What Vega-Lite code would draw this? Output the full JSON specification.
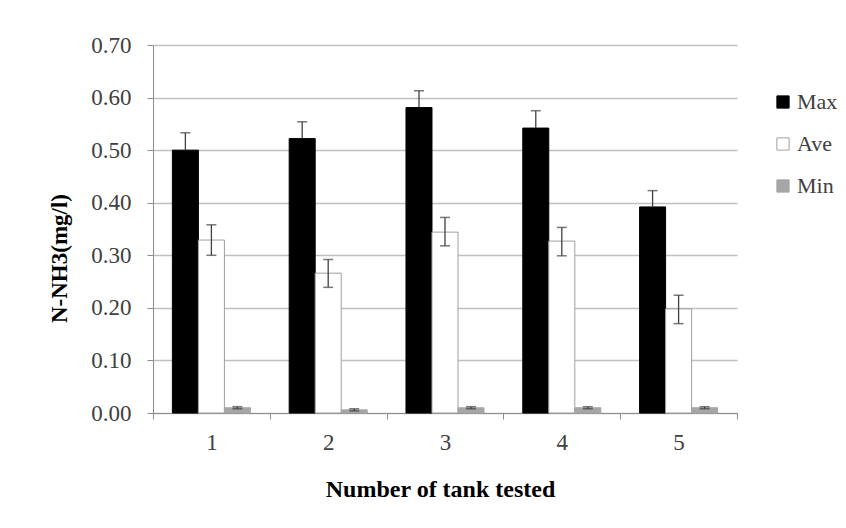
{
  "$schema": "https://vega.github.io/schema/vega-lite/v6.json",
  "width": 584,
  "height": 368,
  "autosize": {"type": "none"},
  "padding": {"left": 153, "top": 45, "right": 109, "bottom": 115},
  "background": "white",
  "config": {
    "view": {"stroke": null},
    "font": "Liberation Serif",
    "legend": {"labelFont": "Liberation Serif", "labelFontSize": 22, "labelColor": "#404040", "padding": 0}
  },
  "data": {
    "values": [
      {"tank": "1", "series": "Max", "value": 0.500, "lo": 0.500, "hi": 0.533},
      {"tank": "1", "series": "Ave", "value": 0.329, "lo": 0.300, "hi": 0.358},
      {"tank": "1", "series": "Min", "value": 0.010, "lo": 0.008, "hi": 0.012},
      {"tank": "2", "series": "Max", "value": 0.522, "lo": 0.522, "hi": 0.554},
      {"tank": "2", "series": "Ave", "value": 0.266, "lo": 0.239, "hi": 0.292},
      {"tank": "2", "series": "Min", "value": 0.006, "lo": 0.004, "hi": 0.008},
      {"tank": "3", "series": "Max", "value": 0.581, "lo": 0.581, "hi": 0.613},
      {"tank": "3", "series": "Ave", "value": 0.344, "lo": 0.318, "hi": 0.372},
      {"tank": "3", "series": "Min", "value": 0.010, "lo": 0.008, "hi": 0.012},
      {"tank": "4", "series": "Max", "value": 0.542, "lo": 0.542, "hi": 0.575},
      {"tank": "4", "series": "Ave", "value": 0.327, "lo": 0.299, "hi": 0.353},
      {"tank": "4", "series": "Min", "value": 0.010, "lo": 0.008, "hi": 0.012},
      {"tank": "5", "series": "Max", "value": 0.392, "lo": 0.392, "hi": 0.423},
      {"tank": "5", "series": "Ave", "value": 0.198, "lo": 0.170, "hi": 0.224},
      {"tank": "5", "series": "Min", "value": 0.010, "lo": 0.008, "hi": 0.012}
    ]
  },
  "encoding": {
    "x": {
      "field": "tank",
      "type": "nominal",
      "scale": {"paddingInner": 0, "paddingOuter": 0},
      "axis": {
        "title": "Number of tank tested",
        "titleFont": "Liberation Serif",
        "titleFontSize": 24,
        "titleFontWeight": "bold",
        "titleColor": "black",
        "titleX": 287,
        "titleY": 64,
        "labelAngle": 0,
        "labelFont": "Liberation Serif",
        "labelFontSize": 23,
        "labelColor": "#404040",
        "labelPadding": 12,
        "tickBand": "extent",
        "tickSize": 6,
        "tickColor": "#8c8c8c",
        "domainColor": "#8c8c8c",
        "grid": false
      }
    },
    "xOffset": {
      "field": "series",
      "type": "nominal",
      "scale": {"domain": ["Max", "Ave", "Min"], "paddingInner": 0, "paddingOuter": 0.745}
    }
  },
  "layer": [
    {
      "mark": {"type": "bar", "strokeWidth": 1},
      "encoding": {
        "y": {
          "field": "value",
          "type": "quantitative",
          "scale": {"domain": [0, 0.7], "nice": false},
          "axis": {
            "title": "N-NH3(mg/l)",
            "titleFont": "Liberation Serif",
            "titleFontSize": 23,
            "titleFontWeight": "bold",
            "titleColor": "black",
            "titleX": -82,
            "titleY": 213,
            "values": [0, 0.1, 0.2, 0.3, 0.4, 0.5, 0.6, 0.7],
            "format": ".2f",
            "labelFont": "Liberation Serif",
            "labelFontSize": 23,
            "labelColor": "#404040",
            "labelPadding": 16,
            "tickSize": 6,
            "tickColor": "#8c8c8c",
            "domainColor": "#8c8c8c",
            "gridColor": "#c0c0c0",
            "gridWidth": 1.3
          }
        },
        "fill": {
          "field": "series",
          "type": "nominal",
          "scale": {"domain": ["Max", "Ave", "Min"], "range": ["#000000", "#ffffff", "#a6a6a6"]},
          "legend": {
            "title": null,
            "orient": "none",
            "legendX": 619,
            "legendY": 46,
            "symbolType": "square",
            "symbolSize": 150,
            "symbolStrokeWidth": 1,
            "symbolStrokeColor": "#8c8c8c",
            "labelFont": "Liberation Serif",
            "labelFontSize": 22,
            "labelColor": "#404040",
            "labelOffset": 3,
            "rowPadding": 20
          }
        },
        "stroke": {
          "field": "series",
          "type": "nominal",
          "scale": {"domain": ["Max", "Ave", "Min"], "range": ["#000000", "#a0a0a0", "#a6a6a6"]},
          "legend": null
        }
      }
    },
    {
      "mark": {"type": "rule", "color": "#404040", "strokeWidth": 1.3},
      "encoding": {
        "y": {"field": "lo", "type": "quantitative"},
        "y2": {"field": "hi"}
      }
    },
    {
      "mark": {"type": "tick", "color": "#404040", "size": 10, "thickness": 1.5, "orient": "horizontal"},
      "encoding": {
        "y": {"field": "hi", "type": "quantitative"}
      }
    },
    {
      "transform": [{"filter": "datum.series != 'Max'"}],
      "mark": {"type": "tick", "color": "#404040", "size": 10, "thickness": 1.5, "orient": "horizontal"},
      "encoding": {
        "y": {"field": "lo", "type": "quantitative"}
      }
    }
  ]
}
